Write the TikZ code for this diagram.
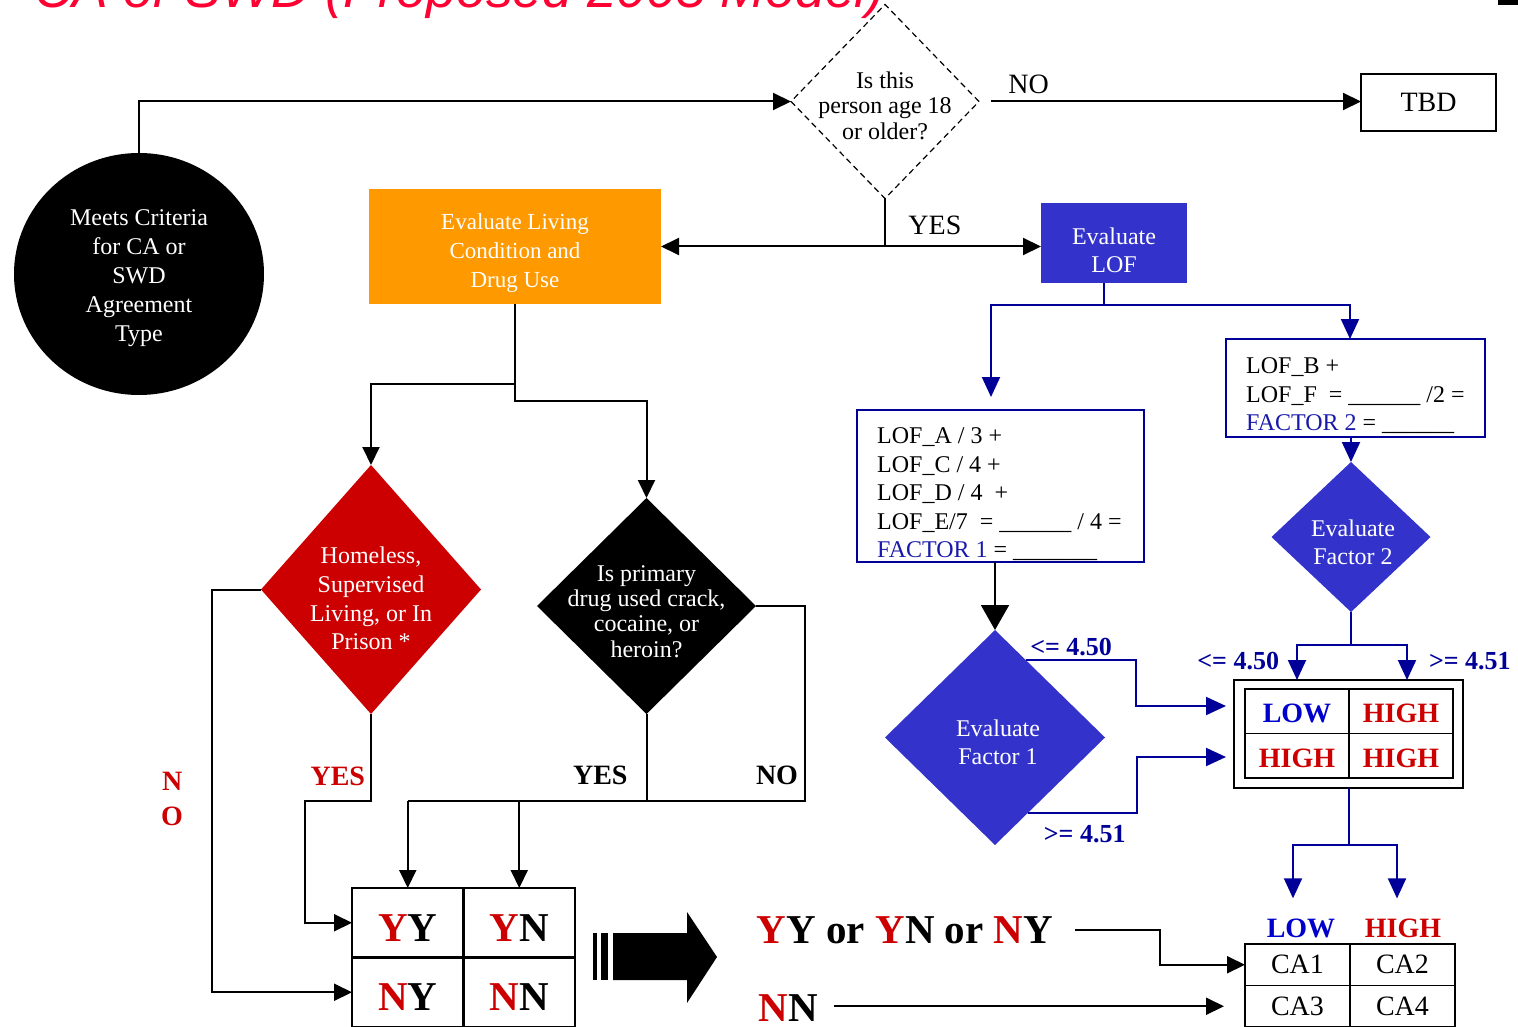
\documentclass[tikz,border=0pt]{standalone}
\usepackage{fontspec}
\setmainfont{Liberation Serif}
\newfontfamily\headfont{Liberation Sans}
\usepackage{tikz}
\usetikzlibrary{arrows.meta,positioning,shapes.geometric,calc}
\definecolor{redc}{HTML}{CC0000}
\definecolor{orangec}{HTML}{FF9900}
\definecolor{lofblue}{HTML}{3333CC}
\definecolor{navyline}{HTML}{000099}
\definecolor{lowblue}{HTML}{0000CC}
\definecolor{factorblue}{HTML}{1A1AAA}
\definecolor{titlered}{HTML}{FF0033}
\newcommand{\fsz}[2]{\fontsize{#1}{#2}\selectfont}
\newcommand{\rd}[1]{\textcolor{redc}{#1}}
\tikzset{
  box/.style={rectangle, draw=black, line width=1.5pt, inner sep=0pt, outer sep=0pt},
  fillbox/.style={rectangle, draw=none, inner sep=0pt, outer sep=0pt},
  formbox/.style={rectangle, draw=navyline, line width=1.5pt, inner sep=0pt, outer sep=0pt},
  decision/.style={diamond, draw=none, inner sep=0pt, outer sep=0pt},
  txt/.style={align=center, inner sep=0pt, font=\fsz{24}{28.5}},
  wtxt/.style={txt, text=white},
  formtxt/.style={align=left, inner sep=0pt, font=\fsz{24}{28.5}},
  lbl/.style={inner sep=0pt, font=\fsz{28}{32}},
  boldlbl/.style={inner sep=0pt, font=\fsz{28}{35}\bfseries},
  rlbl/.style={boldlbl, text=redc},
  blbl/.style={inner sep=0pt, text=navyline, font=\fsz{26}{30}\bfseries},
  cell/.style={rectangle, draw=black, line width=1.5pt, inner sep=0pt, outer sep=0pt, font=\fsz{28}{32}\bfseries},
  gcell/.style={cell, minimum width=104pt, minimum height=44.5pt, text height=23pt, text depth=0pt},
  bigcell/.style={cell, line width=2.5pt, minimum width=111.5pt, minimum height=69.5pt, text height=37pt, text depth=0pt, font=\fsz{41}{46}\bfseries},
  cacell/.style={cell, minimum width=105pt, minimum height=41.5pt, font=\fsz{28}{32}},
  bigtxt/.style={inner sep=0pt, font=\fsz{41}{46}\bfseries},
  wire/.style={draw=black, line width=2pt},
  flow/.style={wire, -{Triangle[length=18pt, width=17pt]}},
  bigflow/.style={wire, -{Triangle[length=25pt, width=28pt]}},
  bwire/.style={draw=navyline, line width=2pt},
  bflow/.style={bwire, -{Triangle[length=20pt, width=18pt]}}
}
\begin{document}
\begin{tikzpicture}[x=1pt, y=-1pt]
\useasboundingbox (0,0) rectangle (1518,1027);
\clip (0,0) rectangle (1518,1027);
% heading, cut by the top edge
\node[anchor=base west, inner sep=0pt, text=titlered, font=\headfont\itshape\fsz{53.5}{60}] (title) at (34,8) {CA or SWD (Proposed 2005 Model)};
\fill (1498,0) rectangle (1518,5);

% entry and age check
\node[ellipse, fill=black, minimum width=250pt, minimum height=242pt, inner sep=0pt] (crit) at (139,274) {};
\node[wtxt, font=\fsz{24}{29}] (crit-t) at ([yshift=-4pt]crit.center) {Meets Criteria\\for CA or\\SWD\\Agreement\\Type};
\node[decision, draw=black, line width=1.2pt, dash pattern=on 6pt off 4pt, minimum width=188pt, minimum height=194pt] (age) at (885,101.5) {};
\node[txt, font=\fsz{24}{25.5}] (age-t) at ([yshift=-4pt]age.center) {Is this\\person age 18\\or older?};
\node[box, minimum width=135pt, minimum height=57pt, font=\fsz{28}{32}] (tbd) at (1428.5,102.5) {TBD};

\node[fillbox, fill=orangec, minimum width=292pt, minimum height=115pt] (evl) at (515,246.5) {};
\node[wtxt, font=\fsz{23}{29}] (evl-t) at ([yshift=-6.5pt]evl.center) {Evaluate Living\\Condition and\\Drug Use};
\node[fillbox, fill=lofblue, minimum width=146pt, minimum height=80pt] (lof) at (1114,243) {};
\node[wtxt, font=\fsz{24}{28}] (lof-t) at ([yshift=-7pt]lof.center) {Evaluate\\LOF};

% living condition / drug questions
\node[decision, fill=redc, minimum width=220pt, minimum height=249pt] (home) at (371,589.5) {};
\node[wtxt, font=\fsz{24}{28.7}] (home-t) at ([yshift=-9pt]home.center) {Homeless,\\Supervised\\Living, or In\\Prison *};
\node[decision, fill=black, minimum width=219pt, minimum height=216pt] (drug) at (646.5,606) {};
\node[wtxt, font=\fsz{24}{25.3}] (drug-t) at ([yshift=-5.5pt]drug.center) {Is primary\\drug used crack,\\cocaine, or\\heroin?};

\node[bigcell] (yy) at (407.75,922.75) {\rd{Y}Y};
\node[bigcell, right=0pt of yy] (yn) {\rd{Y}N};
\node[bigcell, below=0pt of yy] (ny) {\rd{N}Y};
\node[bigcell, right=0pt of ny] (nn) {\rd{N}N};

% LOF factors
\node[formbox, minimum width=287pt, minimum height=152pt] (f1box) at (1000.5,486) {};
\node[formtxt, anchor=west] (f1box-t) at ([xshift=20pt, yshift=-8.5pt]f1box.west) {LOF\_A / 3 +\\LOF\_C / 4 +\\LOF\_D / 4\ \ +\\LOF\_E/7\ \ = \_\_\_\_\_\_ / 4 =\\\textcolor{factorblue}{FACTOR 1} = \_\_\_\_\_\_\_};
\node[formbox, minimum width=259pt, minimum height=98pt] (f2box) at (1355.5,388) {};
\node[formtxt, anchor=west] (f2box-t) at ([xshift=20pt, yshift=-8pt]f2box.west) {LOF\_B +\\LOF\_F\ \ = \_\_\_\_\_\_ /2 =\\\textcolor{factorblue}{FACTOR 2} = \_\_\_\_\_\_};
\node[decision, fill=lofblue, minimum width=220pt, minimum height=215pt] (f1) at (995,737.5) {};
\node[wtxt, font=\fsz{24}{28}] (f1-t) at ([xshift=3pt, yshift=-4.5pt]f1.center) {Evaluate\\Factor 1};
\node[decision, fill=lofblue, minimum width=159pt, minimum height=150pt] (f2) at (1351,537) {};
\node[wtxt, font=\fsz{24}{28}] (f2-t) at ([xshift=2pt, yshift=-5.5pt]f2.center) {Evaluate\\Factor 2};

\node[box, line width=2pt, minimum width=229pt, minimum height=108pt] (lofgrid) at (1348.5,734) {};
\node[gcell, text=lowblue] (g11) at (1297,711.25) {LOW};
\node[gcell, right=0pt of g11, text=redc] (g12) {HIGH};
\node[gcell, below=0pt of g11, text=redc] (g21) {HIGH};
\node[gcell, right=0pt of g21, text=redc] (g22) {HIGH};

% outcome
\node[bigtxt] (yyor) at (905,930) {\rd{Y}Y or \rd{Y}N or \rd{N}Y};
\node[bigtxt] (nnlbl) at (788,1008) {\rd{N}N};
\node[boldlbl, text=lowblue] (calow) at (1301,928) {LOW};
\node[boldlbl, text=redc] (cahigh) at (1403,928) {HIGH};
\node[cacell] (ca1) at (1297.5,964.75) {CA1};
\node[cacell, right=0pt of ca1] (ca2) {CA2};
\node[cacell, below=0pt of ca1] (ca3) {CA3};
\node[cacell, right=0pt of ca3] (ca4) {CA4};

% striped block arrow
\fill (593,933) rectangle (597,980);
\fill (601,933) rectangle (608,980);
\fill (613,933) -- (687,933) -- (687,912) -- (717,957) -- (687,1003) -- (687,980) -- (613,980) -- cycle;

% connectors
\draw[flow] (crit.north) |- (age.west);
\draw[flow, shorten <=12pt] (age.east) -- node[lbl, pos=0.13, above=7pt] (ageno) {NO} (age.east -| tbd.west);
\draw[wire] (age.south) -- ++(0,48) coordinate (agesplit);
\draw[flow] (agesplit) -- (agesplit -| evl.east);
\draw[flow] (agesplit) -- node[lbl, pos=0.32, above=11pt] (ageyes) {YES} (agesplit -| lof.west);

\draw[flow] (evl.south) -- ++(0,80) -| (home.north);
\draw[flow] (evl.south) -- ++(0,97) -| (drug.north);
\draw[flow] (home.west) -- ++(-49,0) |- node[rlbl, align=center, pos=0.26, left=28pt] (homeno) {N\\O} (ny.west);
\draw[flow] (home.south) -- node[rlbl, pos=0.72, left=5pt] (homeyes) {YES} ++(0,87) -- ++(-66,0) |- (yy.west);
\draw[wire] (drug.south) -- node[boldlbl, pos=0.71, left=18pt] (drugyes) {YES} ++(0,87) coordinate (drugjoin);
\draw[wire] (drug.east) -- ++(49,0) |- node[boldlbl, pos=0.433, left=6pt] (drugno) {NO} (drugjoin);
\draw[wire] (yy.north |- drugjoin) -- (drugjoin);
\draw[flow] (yy.north |- drugjoin) -- (yy.north);
\draw[flow] (yn.north |- drugjoin) -- (yn.north);

\coordinate (lofsplit) at (1104,305);
\draw[bwire] (lofsplit |- lof.south) -- (lofsplit);
\draw[bflow, shorten >=13pt] (lofsplit) -| ([xshift=-9.5pt]f1box.north);
\draw[bflow] (lofsplit) -| ([xshift=-5.5pt]f2box.north);
\draw[bigflow] (f1box.south -| f1.north) -- (f1.north);
\draw[bflow] (f2box.south -| f2.north) -- (f2.north);

\draw[bflow, shorten >=8pt] ($(f1.north)!0.28!(f1.east)$) -- node[blbl, pos=0.41, above=3pt] (f1lo) {<= 4.50} ++(110.5,0) |- ([yshift=28pt]lofgrid.west);
\draw[bflow, shorten >=8pt] ($(f1.south)!0.3!(f1.east)$) -- node[blbl, pos=0.52, below=12pt] (f1hi) {>= 4.51} ++(109,0) |- ([yshift=-23pt]lofgrid.west);
\draw[bflow] (f2.south) -- ++(0,33) -| node[blbl, pos=0.73, left=17pt] (f2lo) {<= 4.50} ([xshift=-51.5pt]lofgrid.north);
\draw[bflow] (f2.south) -- ++(0,33) -| node[blbl, pos=0.73, right=21pt] (f2hi) {>= 4.51} ([xshift=58.5pt]lofgrid.north);
\draw[bflow] (lofgrid.south) -- ++(0,57) -| ([xshift=-8pt, yshift=20pt]calow.north);
\draw[bflow] (lofgrid.south) -- ++(0,57) -| ([xshift=-6pt, yshift=20pt]cahigh.north);

\draw[flow, shorten <=22pt] (yyor.east) -- ++(107,0) |- (ca1.west);
\draw[flow, shorten <=16pt, shorten >=21pt] (nnlbl.east |- ca3.west) -- (ca3.west);
\end{tikzpicture}
\end{document}
